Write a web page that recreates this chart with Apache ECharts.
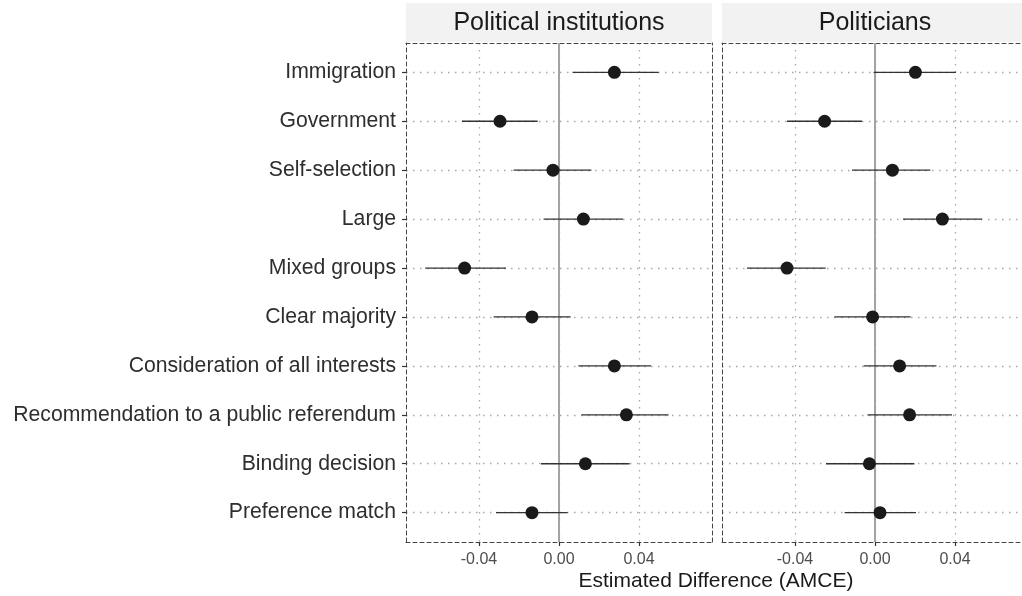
<!DOCTYPE html>
<html><head><meta charset="utf-8">
<script src="https://cdn.jsdelivr.net/npm/echarts@6/dist/echarts.min.js"></script>
<style>html,body{margin:0;padding:0;background:#fff}#c{width:1022px;height:596px}</style>
</head><body><div id="c"></div>
<script>
// categories bottom -> top
const categories = ['Preference match','Binding decision','Recommendation to a public referendum','Consideration of all interests','Clear majority','Mixed groups','Large','Self-selection','Government','Immigration'];
const panels = ['Political institutions','Politicians'];
const instEst  = [-0.0135, 0.0132, 0.0337, 0.0277, -0.0135, -0.0472, 0.0122, -0.0030, -0.0295, 0.0277];
const instLow  = [-0.0315, -0.0090, 0.0112, 0.0097, -0.0327, -0.0669, -0.0077, -0.0227, -0.0485, 0.0068];
const instHigh = [ 0.0043, 0.0353, 0.0548, 0.0460, 0.0058, -0.0265, 0.0320, 0.0162, -0.0107, 0.0498];
const polEst   = [ 0.0025, -0.0028, 0.0173, 0.0123, -0.0012, -0.0440, 0.0337, 0.0087, -0.0252, 0.0202];
const polLow   = [-0.0152, -0.0245, -0.0038, -0.0057, -0.0203, -0.0640, 0.0140, -0.0115, -0.0440, -0.0007];
const polHigh  = [ 0.0205, 0.0197, 0.0385, 0.0307, 0.0178, -0.0247, 0.0535, 0.0277, -0.0065, 0.0405];
const xTicks = [-0.04, 0, 0.04];
const xTickLabels = ['-0.04', '0.00', '0.04'];
const xTitle = 'Estimated Difference (AMCE)';

const XMIN = -0.0765, XMAX = 0.0765;
const YMIN = -0.6, YMAX = 9.6;
const catIdx = categories.map((c, i) => i);
const border = { color: '#444', width: 1, type: [4, 3] };
const gridDot = { color: '#a8a8a8', width: 1.3, type: [1.5, 5.5] };

const grids = [
  { left: 406, width: 306, top: 43, height: 499, outerBoundsMode: 'none', containLabel: false },
  { left: 722, width: 306, top: 43, height: 499, outerBoundsMode: 'none', containLabel: false }
];

const xAxes = [], yAxes = [], series = [];
const data = [[instEst, instLow, instHigh], [polEst, polLow, polHigh]];

for (let p = 0; p < 2; p++) {
  xAxes.push({
    gridIndex: p, type: 'value', min: XMIN, max: XMAX, position: 'bottom',
    axisLine: { show: true, onZero: false, lineStyle: border },
    axisTick: { show: true, length: 4, customValues: xTicks, lineStyle: { color: '#333', width: 1.2 } },
    axisLabel: { show: true, customValues: xTicks, margin: 10, fontSize: 16, color: '#4d4d4d',
      fontFamily: 'Liberation Sans, Arial, sans-serif',
      formatter: v => xTickLabels[xTicks.findIndex(t => Math.abs(t - v) < 1e-9)] },
    splitLine: { show: true, lineStyle: gridDot }
  });
  xAxes.push({
    gridIndex: p, type: 'value', min: XMIN, max: XMAX, position: 'top',
    axisLine: { show: true, onZero: false, lineStyle: border },
    axisTick: { show: false }, axisLabel: { show: false }, splitLine: { show: false }
  });
  yAxes.push({
    gridIndex: p, type: 'value', min: YMIN, max: YMAX, position: 'left',
    axisLine: { show: true, onZero: false, lineStyle: border },
    axisTick: { show: p === 0, length: 4, customValues: catIdx, lineStyle: { color: '#333', width: 1.2 } },
    axisLabel: { show: p === 0, customValues: catIdx, margin: 10, fontSize: 21.2, color: '#2e2e2e',
      fontFamily: 'Liberation Sans, Arial, sans-serif',
      formatter: v => categories[Math.round(v)] },
    splitLine: { show: true, lineStyle: gridDot }
  });
  yAxes.push({
    gridIndex: p, type: 'value', min: YMIN, max: YMAX, position: 'right',
    axisLine: { show: true, onZero: false, lineStyle: border },
    axisTick: { show: false }, axisLabel: { show: false }, splitLine: { show: false }
  });
  const [est, lo, hi] = data[p];
  series.push({
    type: 'custom', xAxisIndex: p * 2, yAxisIndex: p * 2, z: 3,
    data: catIdx.map(i => [i, lo[i], hi[i]]),
    encode: { x: [1, 2], y: 0 },
    renderItem: (params, api) => {
      const y = api.value(0);
      const a = api.coord([api.value(1), y]);
      const b = api.coord([api.value(2), y]);
      return { type: 'line', shape: { x1: a[0], y1: a[1], x2: b[0], y2: b[1] },
        style: { stroke: '#333', lineWidth: 1.3 } };
    },
    markLine: { silent: true, symbol: 'none', label: { show: false },
      lineStyle: { color: '#a3a3a3', width: 2, type: 'solid' },
      data: [{ xAxis: 0 }] , z: 2}
  });
  series.push({
    type: 'scatter', xAxisIndex: p * 2, yAxisIndex: p * 2, z: 5,
    symbolSize: 13, itemStyle: { color: '#1a1a1a', opacity: 1 },
    data: catIdx.map(i => [est[i], i])
  });
}

const chart = echarts.init(document.getElementById('c'), null, { renderer: 'canvas' });
chart.setOption({
  animation: false,
  backgroundColor: '#fff',
  grid: grids,
  xAxis: xAxes,
  yAxis: yAxes,
  series: series,
  graphic: [
    { type: 'rect', shape: { x: 406, y: 3, width: 306, height: 39 }, style: { fill: '#f2f2f2' }, silent: true },
    { type: 'rect', shape: { x: 722, y: 3, width: 306, height: 39 }, style: { fill: '#f2f2f2' }, silent: true },
    { type: 'text', x: 559, y: 23, style: { text: panels[0], fill: '#1a1a1a', font: '25px "Liberation Sans", Arial, sans-serif', textAlign: 'center', textVerticalAlign: 'middle' }, silent: true },
    { type: 'text', x: 875, y: 23, style: { text: panels[1], fill: '#1a1a1a', font: '25px "Liberation Sans", Arial, sans-serif', textAlign: 'center', textVerticalAlign: 'middle' }, silent: true },
    { type: 'text', x: 716, y: 581, style: { text: xTitle, fill: '#1a1a1a', font: '21px "Liberation Sans", Arial, sans-serif', textAlign: 'center', textVerticalAlign: 'middle' }, silent: true }
  ]
});
</script>
</body></html>
